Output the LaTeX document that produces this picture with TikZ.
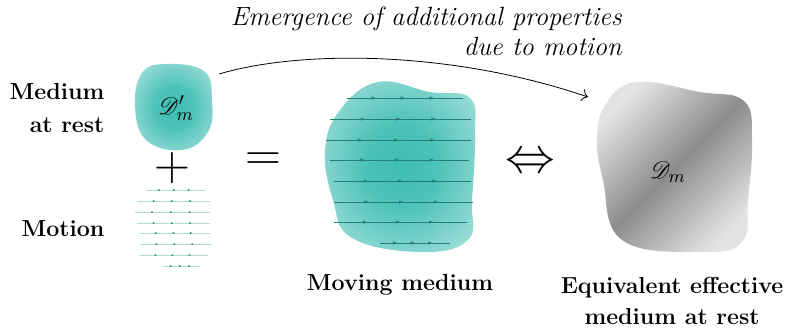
\documentclass[tikz,border=0pt]{standalone}
\usepackage{amsmath,amssymb}
\usepackage{mathrsfs}
\usepackage{xcolor}
\usetikzlibrary{positioning, arrows.meta, decorations.markings}

\definecolor{tealMid}{RGB}{62,189,178}
\definecolor{tealLine}{RGB}{36,128,120}
\definecolor{tealFaint}{RGB}{175,220,215}
\pgfdeclareradialshading{tealglow}{\pgfpoint{0bp}{0bp}}{%
  color(0bp)=(tealMid); color(12bp)=(tealMid!92!white);
  color(46bp)=(tealMid!18!white); color(60bp)=(tealMid!10!white)}

\begin{document}
\begin{tikzpicture}[
    x=0.5pt, y=-0.5pt,
    txt/.style={font=\fontsize{11.6}{16.5}\selectfont\bfseries, align=right, inner sep=0pt},
    ctxt/.style={font=\fontsize{11.6}{15.5}\selectfont\bfseries, align=center, inner sep=0pt},
    sym/.style={font=\fontsize{25}{25}\selectfont, inner sep=0pt},
    mathlbl/.style={font=\fontsize{13}{13}\selectfont, inner sep=0pt},
    blob/.style={shading=tealglow},
    flowline/.style={draw=tealLine, line width=0.5pt, postaction={decorate},
        decoration={markings,
            mark=at position 0.25 with {\arrow{Latex[length=2.2pt,width=1.8pt]}},
            mark=at position 0.5 with {\arrow{Latex[length=2.2pt,width=1.8pt]}},
            mark=at position 0.75 with {\arrow{Latex[length=2.2pt,width=1.8pt]}}}},
    faintline/.style={draw=tealFaint, line width=0.3pt, postaction={decorate},
        decoration={markings,
            mark=at position 0.25 with {\arrow[tealLine]{Latex[length=1.2pt,width=1pt]}},
            mark=at position 0.5 with {\arrow[tealLine]{Latex[length=1.2pt,width=1pt]}},
            mark=at position 0.75 with {\arrow[tealLine]{Latex[length=1.2pt,width=1pt]}}}},
    arrow/.style={-{To[length=3pt]}, line width=0.4pt}
]
\useasboundingbox (0,0) rectangle (787,334);

% Medium at rest
\shade[blob] plot[smooth cycle, tension=0.7] coordinates {
  (165,64) (204,71) (212,100) (208,132) (182,150) (146,140) (135,106) (142,73)};
\node[mathlbl] (rest) at (176,108) {$\mathscr{D}'_m$};
\node[txt] (restlbl) at (57,108) {Medium\\at rest};

% Plus
\node[sym] (plus) at (172,168) {$+$};

% Motion
\foreach \ya/\xa/\xb in {190/146/205, 201/137/210, 212/135/210, 223/137/210,
                         233/140/210, 244/140/212, 255/140/208} {
  \draw[faintline] (\xa,\ya) -- (\xb,\ya);
}
\draw[faintline] (163,266) -- (200,266);
\node[txt] (motionlbl) at (63,229) {Motion};

% Equals
\node[sym] (eq) at (263,162) {$=$};

% Moving medium
\shade[blob] plot[smooth cycle, tension=0.7] coordinates {
  (378,82) (430,92) (470,98) (475,135) (472,200) (468,240) (420,252)
  (352,238) (333,200) (325,150) (340,110)};
\foreach \ya/\xa/\xb in {98/347/463, 119/330/471, 140/326/471, 160/330/469,
                         181/334/471, 202/334/473, 222/334/467} {
  \draw[flowline] (\xa,\ya) -- (\xb,\ya);
}
\draw[flowline] (380,243) -- (450,243);
\node[ctxt] (movinglbl) at (400,285) {Moving medium};

% Equivalence
\node[sym] (equiv) at (530,163) {$\Leftrightarrow$};

% Equivalent effective medium
\shade[shading=axis, left color=gray!22, right color=gray!22, middle color=gray!90,
       shading angle=45] plot[smooth cycle, tension=0.7] coordinates {
  (636,82) (700,92) (744,101) (752,140) (748,200) (742,242) (700,252)
  (622,240) (603,180) (597,138) (606,104)};
\node[mathlbl] (eff) at (668,172) {$\mathscr{D}_m$};
\node[ctxt] (efflbl) at (672,301) {Equivalent effective\\medium at rest};

% Curved arrow
\coordinate (arrstart) at (219,74);
\coordinate (arrend) at (588,97);
\draw[arrow] (arrstart) .. controls (300,50) and (450,50) .. (arrend);
\node[font=\fontsize{13.2}{15}\selectfont\itshape, align=right, inner sep=0pt, anchor=east] (emerge) at (622,31)
  {Emergence of additional properties\\due to motion};

\end{tikzpicture}
\end{document}
